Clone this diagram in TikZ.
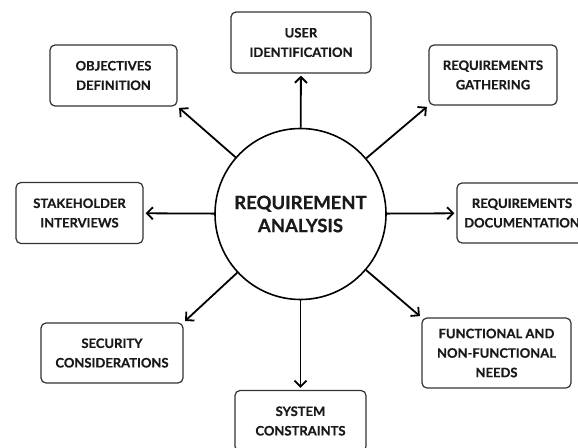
\documentclass[tikz,border=0pt]{standalone}
\usepackage{fontspec}
\newfontfamily\labelfont{Lato Bold}[FakeBold=0.6]
\usetikzlibrary{arrows.meta}
\definecolor{ink}{HTML}{1A1A1A}
\definecolor{frame}{HTML}{333333}
\tikzset{
  topic/.style={draw=frame, line width=1.2pt, rounded corners=5pt, fill=white,
    align=center, inner sep=0pt, text=ink,
    font=\labelfont\fontsize{13}{19.5}\selectfont},
  hub/.style={circle, draw=black, line width=1.6pt, minimum size=171pt,
    inner sep=0pt, align=center, text=ink,
    font=\labelfont\fontsize{18.5}{23}\selectfont},
  link/.style={draw=black, line width=1.8pt,
    -{Straight Barb[length=6pt,width=12pt,line width=1.8pt]}, shorten >=2pt}
}
\begin{document}
\begin{tikzpicture}[x=1pt,y=-1pt]
  \useasboundingbox[fill=white] (0,0) rectangle (578,447);

  % central topic
  \node[hub] (ra) at (300.5,214) {REQUIREMENT\\ANALYSIS};

  % surrounding topics
  \node[topic, minimum width=140pt, minimum height=61pt] (user) at (301,42.5)
    {USER\\IDENTIFICATION};
  \node[topic, minimum width=127pt, minimum height=61pt] (obj) at (113.5,75.5)
    {OBJECTIVES\\DEFINITION};
  \node[topic, minimum width=128pt, minimum height=60pt] (gath) at (493,75)
    {REQUIREMENTS\\GATHERING};
  \node[topic, minimum width=127pt, minimum height=61pt] (stake) at (79.5,213)
    {STAKEHOLDER\\INTERVIEWS};
  \node[topic, minimum width=130pt, minimum height=60pt] (doc) at (522,213)
    {REQUIREMENTS\\DOCUMENTATION};
  \node[topic, minimum width=142pt, minimum height=60pt] (sec) at (112,353)
    {SECURITY\\CONSIDERATIONS};
  \node[topic, minimum width=131pt, minimum height=61pt] (sys) at (300.5,421)
    {SYSTEM\\CONSTRAINTS};
  \node[topic, minimum width=149pt, minimum height=70pt] (func) at (496.5,353)
    {FUNCTIONAL AND\\NON-FUNCTIONAL\\NEEDS};

  % connectors from the hub
  \draw[link] (ra) -- (user);
  \draw[link] (ra) -- (sys);
  \draw[link] (ra) -- (stake);
  \draw[link] (ra) -- (doc);
  \draw[link] (ra) -- (obj.south east);
  \draw[link] (ra) -- (gath.south west);
  \draw[link] (ra) -- (sec.north east);
  \draw[link] (ra) -- (func.north west);
\end{tikzpicture}
\end{document}
